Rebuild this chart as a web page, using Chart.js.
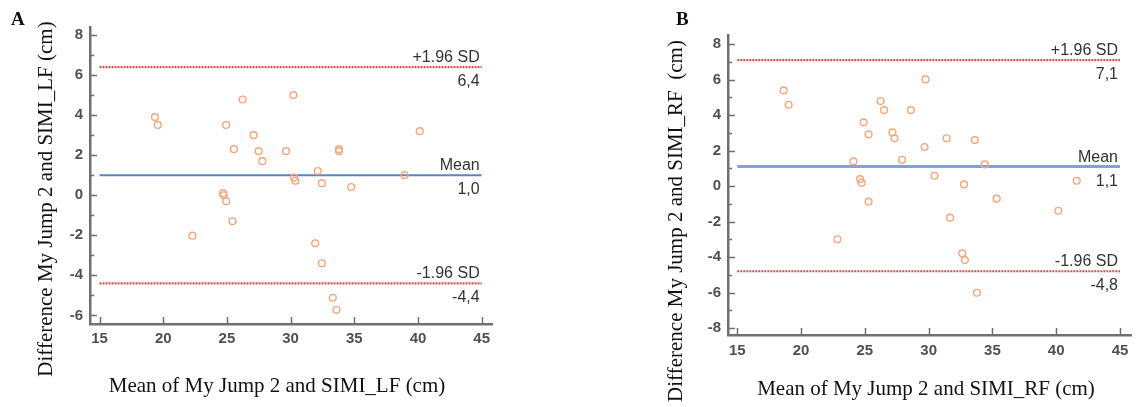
<!DOCTYPE html>
<html>
<head>
<meta charset="utf-8">
<script src="https://cdn.jsdelivr.net/npm/chart.js@4.4.1/dist/chart.umd.min.js"></script>
<style>
  html, body { margin: 0; padding: 0; background: #fff; }
  body { width: 1137px; height: 407px; position: relative; overflow: hidden; }
  canvas { position: absolute; top: 0; }
  .tag { position: absolute; font: bold 19px "Liberation Serif", serif; line-height: 19px; color: #111; }
  .xt, .yt { position: absolute; font: 21px "Liberation Serif", serif; line-height: 21px; white-space: pre; color: #111; }
  .xt { transform: translateX(-50%); }
  .yt { transform: translate(-50%, -50%) rotate(-90deg); }
</style>
</head>
<body>
<canvas id="chartA" width="560" height="407" style="left:0"></canvas>
<canvas id="chartB" width="567" height="407" style="left:570px"></canvas>

<div class="tag" style="left:11px; top:9px">A</div>
<div class="tag" style="left:676px; top:9px">B</div>
<div class="yt" style="left:44.6px; top:199px">Difference My Jump 2 and SIMI_LF (cm)</div>
<div class="xt" style="left:277px; top:374.5px">Mean of My Jump 2 and SIMI_LF (cm)</div>
<div class="yt" style="left:674.6px; top:220.5px">Difference My Jump 2 and SIMI_RF  (cm)</div>
<div class="xt" style="left:926px; top:377.5px">Mean of My Jump 2 and SIMI_RF (cm)</div>

<script>
// ---------- DATA ----------
const xTicks  = [15, 20, 25, 30, 35, 40, 45];
const yTicksA = [-6, -4, -2, 0, 2, 4, 6, 8];
const yTicksB = [-8, -6, -4, -2, 0, 2, 4, 6, 8];

// A: left foot
const meanA = [19.35, 19.57, 26.23, 30.22, 24.94, 27.09, 25.55, 27.49, 29.64, 27.78,
               33.8, 33.8, 40.14, 32.13, 30.27, 30.38, 32.45, 34.76, 38.94, 24.7,
               24.75, 24.94, 25.44, 22.29, 31.93, 32.45, 33.31, 33.6];
const diffA = [3.9, 3.51, 4.78, 5.0, 3.51, 3.0, 2.3, 2.2, 2.2, 1.7,
               2.3, 2.2, 3.2, 1.21, 0.88, 0.72, 0.6, 0.41, 1.0, 0.1,
               0.0, -0.3, -1.3, -2.02, -2.4, -3.4, -5.12, -5.72];
const limitsA = [6.4, 1.0, -4.4];
const limitTextA = [["+1.96 SD", "6,4"], ["Mean", "1,0"], ["-1.96 SD", "-4,4"]];

// B: right foot
const meanB = [18.63, 19.02, 29.75, 26.23, 26.51, 28.61, 24.9, 25.29, 27.16, 27.32,
               31.41, 33.62, 29.68, 27.91, 24.1, 30.46, 24.62, 24.75, 32.77, 25.29,
               34.4, 41.61, 35.33, 40.16, 32.63, 32.84, 33.78, 22.85, 31.68];
const diffB = [5.39, 4.58, 6.01, 4.79, 4.28, 4.28, 3.59, 2.91, 3.02, 2.69,
               2.69, 2.59, 2.2, 1.48, 1.39, 0.58, 0.39, 0.19, 0.09, -0.88,
               1.22, 0.3, -0.71, -1.39, -3.79, -4.17, -6.01, -3.0, -1.78];
const limitsB = [7.1, 1.1, -4.8];
const limitTextB = [["+1.96 SD", "7,1"], ["Mean", "1,1"], ["-1.96 SD", "-4,8"]];

// ---------- HELPERS ----------
const AXIS = "#707070";

function pairs(xs, ys) {
  return xs.map((x, i) => ({ x: x, y: ys[i] }));
}
function hline(v) {
  return [{ x: xTicks[0], y: v }, { x: xTicks[xTicks.length - 1], y: v }];
}

// ticks point inward, with minor ticks on y
const innerTicks = {
  id: "innerTicks",
  afterDraw(chart) {
    const { ctx, chartArea: a, scales: { x, y } } = chart;
    ctx.save();
    ctx.strokeStyle = AXIS;
    ctx.lineWidth = 1.5;
    ctx.beginPath();
    y.ticks.forEach((t, i) => {
      const py = Math.round(y.getPixelForValue(t.value)) + 0.5;
      ctx.moveTo(a.left, py);
      ctx.lineTo(a.left + 7, py);
      const nxt = y.ticks[i + 1];
      if (nxt) {
        const pm = Math.round(y.getPixelForValue((t.value + nxt.value) / 2)) + 0.5;
        ctx.moveTo(a.left, pm);
        ctx.lineTo(a.left + 4, pm);
      }
    });
    x.ticks.forEach(t => {
      const px = Math.round(x.getPixelForValue(t.value)) + 0.5;
      ctx.moveTo(px, a.bottom);
      ctx.lineTo(px, a.bottom - 7);
    });
    ctx.stroke();
    ctx.restore();
  }
};

// "+1.96 SD" / value text at the right end of each line
const lineLabels = {
  id: "lineLabels",
  afterDatasetsDraw(chart, args, opts) {
    const { ctx, scales: { x, y } } = chart;
    const px = x.getPixelForValue(xTicks[xTicks.length - 1]) - 2;
    ctx.save();
    ctx.font = '16px "Liberation Sans", Arial, sans-serif';
    ctx.fillStyle = "#333";
    ctx.textAlign = "right";
    ctx.textBaseline = "alphabetic";
    opts.values.forEach((v, i) => {
      const py = y.getPixelForValue(v);
      ctx.fillText(opts.text[i][0], px, py - 5);
      ctx.fillText(opts.text[i][1], px, py + 19);
    });
    ctx.restore();
  }
};

function makeChart(id, p) {
  const tickFont = { family: "Liberation Sans", size: 15, weight: "bold" };
  const dashed = { borderColor: "#cc5252", borderWidth: 2.2, borderDash: [2, 1] };

  return new Chart(document.getElementById(id), {
    type: "scatter",
    data: {
      datasets: [
        {
          data: pairs(p.xs, p.ys),
          pointStyle: "circle",
          pointRadius: 3.4,
          pointBorderWidth: 1.4,
          pointBorderColor: "#f5a67e",
          pointBackgroundColor: "rgba(255,255,255,0)"
        },
        Object.assign({ data: hline(p.limits[0]), showLine: true, pointRadius: 0 }, dashed),
        { data: hline(p.limits[1]), showLine: true, pointRadius: 0,
          borderColor: p.meanColor, borderWidth: p.meanWidth },
        Object.assign({ data: hline(p.limits[2]), showLine: true, pointRadius: 0 }, dashed)
      ]
    },
    options: {
      responsive: false,
      animation: false,
      devicePixelRatio: 1,
      layout: { padding: { top: p.top, right: p.right, bottom: 0, left: 0 } },
      plugins: {
        legend: { display: false },
        tooltip: { enabled: false },
        lineLabels: { values: p.limits, text: p.text }
      },
      scales: {
        x: {
          type: "linear",
          min: p.xMin, max: p.xMax,
          grid: { display: false, drawTicks: false },
          border: { display: true, color: AXIS, width: 2.5 },
          ticks: { font: tickFont, color: "#505050", padding: p.xPad, callback: v => String(v) },
          afterBuildTicks: s => { s.ticks = xTicks.map(v => ({ value: v })); },
          afterFit: s => { s.height = p.xHeight; }
        },
        y: {
          type: "linear",
          min: p.yMin, max: p.yMax,
          grid: { display: false, drawTicks: false },
          border: { display: true, color: AXIS, width: 2.5 },
          ticks: { font: tickFont, color: "#505050", padding: 7, callback: v => String(v) },
          afterBuildTicks: s => { s.ticks = p.yTicks.map(v => ({ value: v })); },
          afterFit: s => { s.width = p.yWidth; }
        }
      }
    },
    plugins: [innerTicks, lineLabels]
  });
}

makeChart("chartA", {
  xs: meanA, ys: diffA, limits: limitsA, text: limitTextA, yTicks: yTicksA,
  xMin: 14.25, xMax: 45.81, yMin: -6.43, yMax: 8.4,
  top: 27, right: 68, yWidth: 90, xHeight: 83, xPad: 6,
  meanColor: "#5686c4", meanWidth: 2
});

makeChart("chartB", {
  xs: meanB, ys: diffB, limits: limitsB, text: limitTextB, yTicks: yTicksB,
  xMin: 14.27, xMax: 45.91, yMin: -8.39, yMax: 8.51,
  top: 35, right: 2, yWidth: 158, xHeight: 72, xPad: 7,
  meanColor: "#7fa3d2", meanWidth: 3
});
</script>
</body>
</html>
